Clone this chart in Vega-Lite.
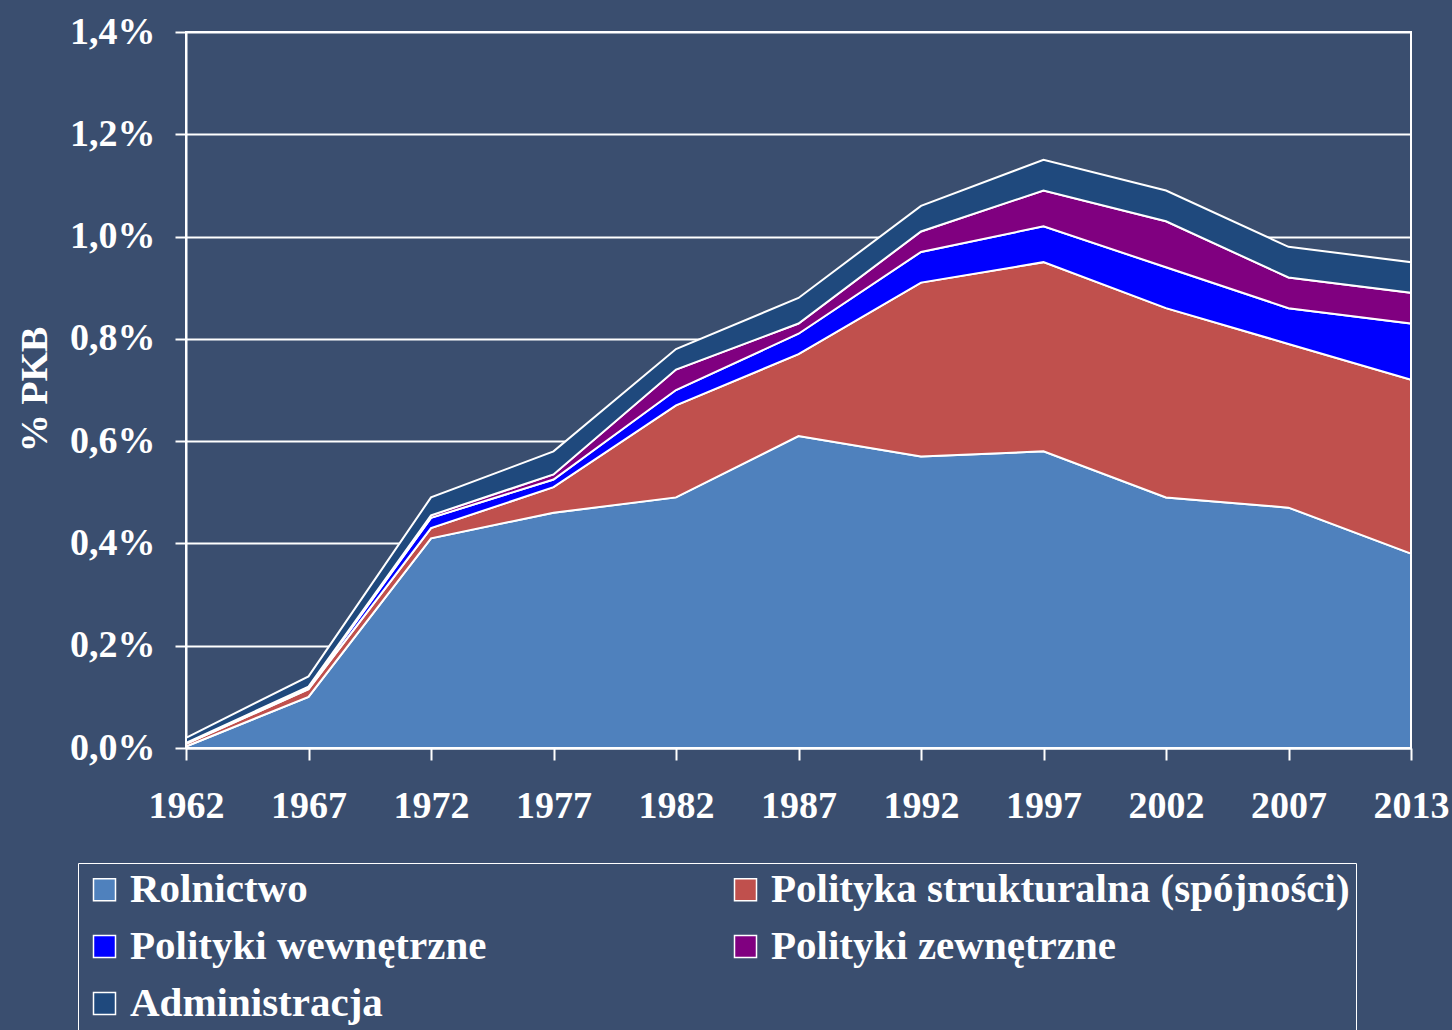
{
  "$schema": "https://vega.github.io/schema/vega-lite/v6.json",
  "width": 1225,
  "height": 716,
  "autosize": {"type": "none"},
  "padding": {"left": 186, "top": 32, "right": 41, "bottom": 282},
  "background": "#3A4E6F",
  "config": {
    "view": {"stroke": "white", "strokeWidth": 2},
    "font": "Liberation Serif"
  },
  "data": {
    "values": [
      {"rok": "1962", "kategoria": "Rolnictwo", "wartosc": 0.003},
      {"rok": "1962", "kategoria": "Polityka strukturalna (spójności)", "wartosc": 0.005},
      {"rok": "1962", "kategoria": "Polityki wewnętrzne", "wartosc": 0.001},
      {"rok": "1962", "kategoria": "Polityki zewnętrzne", "wartosc": 0.001},
      {"rok": "1962", "kategoria": "Administracja", "wartosc": 0.01},
      {"rok": "1967", "kategoria": "Rolnictwo", "wartosc": 0.10},
      {"rok": "1967", "kategoria": "Polityka strukturalna (spójności)", "wartosc": 0.015},
      {"rok": "1967", "kategoria": "Polityki wewnętrzne", "wartosc": 0.003},
      {"rok": "1967", "kategoria": "Polityki zewnętrzne", "wartosc": 0.002},
      {"rok": "1967", "kategoria": "Administracja", "wartosc": 0.02},
      {"rok": "1972", "kategoria": "Rolnictwo", "wartosc": 0.41},
      {"rok": "1972", "kategoria": "Polityka strukturalna (spójności)", "wartosc": 0.02},
      {"rok": "1972", "kategoria": "Polityki wewnętrzne", "wartosc": 0.02},
      {"rok": "1972", "kategoria": "Polityki zewnętrzne", "wartosc": 0.005},
      {"rok": "1972", "kategoria": "Administracja", "wartosc": 0.035},
      {"rok": "1977", "kategoria": "Rolnictwo", "wartosc": 0.46},
      {"rok": "1977", "kategoria": "Polityka strukturalna (spójności)", "wartosc": 0.05},
      {"rok": "1977", "kategoria": "Polityki wewnętrzne", "wartosc": 0.015},
      {"rok": "1977", "kategoria": "Polityki zewnętrzne", "wartosc": 0.01},
      {"rok": "1977", "kategoria": "Administracja", "wartosc": 0.045},
      {"rok": "1982", "kategoria": "Rolnictwo", "wartosc": 0.49},
      {"rok": "1982", "kategoria": "Polityka strukturalna (spójności)", "wartosc": 0.18},
      {"rok": "1982", "kategoria": "Polityki wewnętrzne", "wartosc": 0.03},
      {"rok": "1982", "kategoria": "Polityki zewnętrzne", "wartosc": 0.04},
      {"rok": "1982", "kategoria": "Administracja", "wartosc": 0.04},
      {"rok": "1987", "kategoria": "Rolnictwo", "wartosc": 0.61},
      {"rok": "1987", "kategoria": "Polityka strukturalna (spójności)", "wartosc": 0.16},
      {"rok": "1987", "kategoria": "Polityki wewnętrzne", "wartosc": 0.04},
      {"rok": "1987", "kategoria": "Polityki zewnętrzne", "wartosc": 0.02},
      {"rok": "1987", "kategoria": "Administracja", "wartosc": 0.05},
      {"rok": "1992", "kategoria": "Rolnictwo", "wartosc": 0.57},
      {"rok": "1992", "kategoria": "Polityka strukturalna (spójności)", "wartosc": 0.34},
      {"rok": "1992", "kategoria": "Polityki wewnętrzne", "wartosc": 0.06},
      {"rok": "1992", "kategoria": "Polityki zewnętrzne", "wartosc": 0.04},
      {"rok": "1992", "kategoria": "Administracja", "wartosc": 0.05},
      {"rok": "1997", "kategoria": "Rolnictwo", "wartosc": 0.58},
      {"rok": "1997", "kategoria": "Polityka strukturalna (spójności)", "wartosc": 0.37},
      {"rok": "1997", "kategoria": "Polityki wewnętrzne", "wartosc": 0.07},
      {"rok": "1997", "kategoria": "Polityki zewnętrzne", "wartosc": 0.07},
      {"rok": "1997", "kategoria": "Administracja", "wartosc": 0.06},
      {"rok": "2002", "kategoria": "Rolnictwo", "wartosc": 0.49},
      {"rok": "2002", "kategoria": "Polityka strukturalna (spójności)", "wartosc": 0.37},
      {"rok": "2002", "kategoria": "Polityki wewnętrzne", "wartosc": 0.08},
      {"rok": "2002", "kategoria": "Polityki zewnętrzne", "wartosc": 0.09},
      {"rok": "2002", "kategoria": "Administracja", "wartosc": 0.06},
      {"rok": "2007", "kategoria": "Rolnictwo", "wartosc": 0.47},
      {"rok": "2007", "kategoria": "Polityka strukturalna (spójności)", "wartosc": 0.32},
      {"rok": "2007", "kategoria": "Polityki wewnętrzne", "wartosc": 0.07},
      {"rok": "2007", "kategoria": "Polityki zewnętrzne", "wartosc": 0.06},
      {"rok": "2007", "kategoria": "Administracja", "wartosc": 0.06},
      {"rok": "2013", "kategoria": "Rolnictwo", "wartosc": 0.38},
      {"rok": "2013", "kategoria": "Polityka strukturalna (spójności)", "wartosc": 0.34},
      {"rok": "2013", "kategoria": "Polityki wewnętrzne", "wartosc": 0.11},
      {"rok": "2013", "kategoria": "Polityki zewnętrzne", "wartosc": 0.06},
      {"rok": "2013", "kategoria": "Administracja", "wartosc": 0.06}
    ]
  },
  "transform": [
    {"calculate": "indexof(['Rolnictwo', 'Polityka strukturalna (spójności)', 'Polityki wewnętrzne', 'Polityki zewnętrzne', 'Administracja'], datum.kategoria)", "as": "kolejnosc"}
  ],
  "mark": {"type": "area", "stroke": "white", "strokeWidth": 2, "opacity": 1},
  "encoding": {
    "x": {
      "field": "rok",
      "type": "ordinal",
      "scale": {"type": "point", "padding": 0},
      "axis": {
        "title": null,
        "labelAngle": 0,
        "labelColor": "white",
        "labelFont": "Liberation Serif",
        "labelFontWeight": "bold",
        "labelFontSize": 38,
        "labelPadding": 27,
        "domainColor": "white",
        "domainWidth": 2,
        "tickColor": "white",
        "tickWidth": 2,
        "tickSize": 12,
        "grid": false
      }
    },
    "y": {
      "field": "wartosc",
      "type": "quantitative",
      "stack": "zero",
      "scale": {"domain": [0, 1.4], "nice": false},
      "axis": {
        "values": [0, 0.2, 0.4, 0.6, 0.8, 1.0, 1.2, 1.4],
        "labelExpr": "replace(format(datum.value, '.1f'), '.', ',') + '%'",
        "title": "% PKB",
        "titleColor": "white",
        "titleFont": "Liberation Serif",
        "titleFontWeight": "bold",
        "titleFontSize": 38,
        "titleX": -151,
        "titleY": 357,
        "titleAngle": -90,
        "titleAlign": "center",
        "titleBaseline": "middle",
        "labelColor": "white",
        "labelFont": "Liberation Serif",
        "labelFontWeight": "bold",
        "labelFontSize": 38,
        "labelPadding": 20,
        "domainColor": "white",
        "domainWidth": 2,
        "tickColor": "white",
        "tickWidth": 2,
        "tickSize": 11,
        "grid": true,
        "gridColor": "white",
        "gridWidth": 2
      }
    },
    "color": {
      "field": "kategoria",
      "type": "nominal",
      "scale": {
        "domain": ["Rolnictwo", "Polityki wewnętrzne", "Administracja", "Polityka strukturalna (spójności)", "Polityki zewnętrzne"],
        "range": ["#4F81BD", "#0000FF", "#1F497D", "#C0504D", "#800080"]
      },
      "legend": {
        "title": null,
        "orient": "none",
        "legendX": -108,
        "legendY": 831,
        "columns": 2,
        "gridAlign": "all",
        "columnPadding": 16,
        "rowPadding": 15,
        "padding": 6,
        "strokeColor": "white",
        "symbolType": "square",
        "symbolSize": 484,
        "symbolStrokeColor": "white",
        "symbolStrokeWidth": 1.5,
        "symbolOpacity": 1,
        "labelColor": "white",
        "labelFont": "Liberation Serif",
        "labelFontWeight": "bold",
        "labelFontSize": 41,
        "labelOffset": 5,
        "labelLimit": 800
      }
    },
    "order": {"field": "kolejnosc", "type": "quantitative", "sort": "ascending"}
  }
}
